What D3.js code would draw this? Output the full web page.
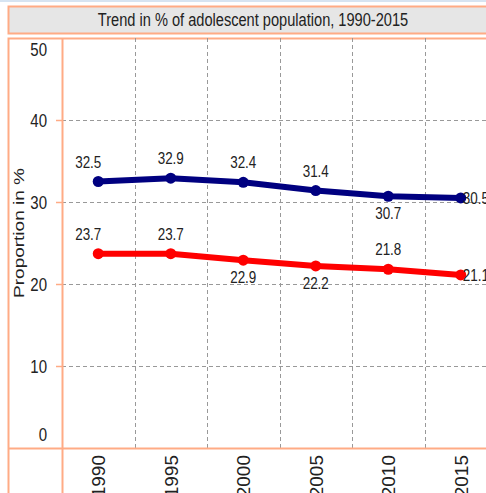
<!DOCTYPE html>
<html>
<head>
<meta charset="utf-8">
<script src="https://cdn.jsdelivr.net/npm/d3@7"></script>
<style>
  body { margin: 0; background: #fff; overflow: hidden; }
  text { font-family: "Liberation Sans", Arial, sans-serif; fill: #222; }
</style>
</head>
<body>
<div id="chart"></div>
<script>
const years = ["1990", "1995", "2000", "2005", "2010", "2015"];
const ageTen = [32.5, 32.9, 32.4, 31.4, 30.7, 30.5];
const ageFifteen = [23.7, 23.7, 22.9, 22.2, 21.8, 21.1];
const yTicks = [0, 10, 20, 30, 40, 50];
const title = "Trend in % of adolescent population, 1990-2015";
const yTitle = "Proportion in %";

// where each value label sits relative to its point
const bluePlace = ["up", "up", "up", "up", "down", "right"];
const redPlace = ["up", "up", "down", "down", "up", "right"];

const W = 486, H = 493;
const ORANGE = "#ffab85";
const SQ = 0.79; // horizontal squeeze of the text

const svg = d3.select("#chart").append("svg")
    .attr("width", W)
    .attr("height", H);

// light blue strip at the very top
svg.append("rect").attr("x", 0).attr("y", 0).attr("width", W).attr("height", 2)
    .attr("fill", "#d6e4f2");

// title box
svg.append("rect")
    .attr("x", 8.5).attr("y", 6.5).attr("width", 500).attr("height", 27)
    .attr("fill", "#e6e6e6")
    .attr("stroke", ORANGE).attr("stroke-width", 2);
svg.append("text")
    .attr("transform", `translate(253,26) scale(${SQ},1)`)
    .attr("text-anchor", "middle")
    .style("font-size", "18.5px")
    .text(title);

// chart frame
svg.append("rect")
    .attr("x", 8.5).attr("y", 38.5).attr("width", 520).attr("height", 500)
    .attr("fill", "none")
    .attr("stroke", ORANGE).attr("stroke-width", 2);

const plotL = 62, plotT = 38, plotB = 448, plotR = 497;

const x = d3.scaleBand().domain(years).range([plotL, plotR]);
const y = d3.scaleLinear().domain([0, 50]).range([plotB, plotT]);

// grid
const grid = svg.append("g")
    .attr("stroke", "#999")
    .attr("stroke-dasharray", "4,3")
    .attr("stroke-width", 1);
grid.selectAll("line.h")
    .data(yTicks.filter(d => d > 0 && d < 50))
    .enter().append("line")
    .attr("x1", plotL).attr("x2", plotR)
    .attr("y1", d => Math.round(y(d)) + 0.5).attr("y2", d => Math.round(y(d)) + 0.5);
grid.selectAll("line.v")
    .data(years.slice(1))
    .enter().append("line")
    .attr("x1", d => Math.round(x(d)) + 0.5).attr("x2", d => Math.round(x(d)) + 0.5)
    .attr("y1", plotT).attr("y2", plotB);

// y axis
const yAxis = svg.append("g")
    .attr("transform", `translate(${plotL},0)`)
    .call(d3.axisLeft(y).tickValues(yTicks).tickSize(6).tickPadding(9));
yAxis.select(".domain").remove();
yAxis.selectAll(".tick line")
    .attr("stroke", ORANGE).attr("stroke-width", 1.5)
    .attr("display", d => (d === 0 || d === 50) ? "none" : null);
yAxis.selectAll(".tick text")
    .attr("fill", "#222")
    .style("font-family", "Liberation Sans, Arial, sans-serif")
    .style("font-size", "19px")
    .attr("transform", `scale(${SQ},1)`)
    .attr("x", -9 / SQ - 6 / SQ)
    .attr("dy", d => d === 50 ? "0.9em" : d === 0 ? "-0.4em" : "0.32em");

// axis lines
svg.append("line")
    .attr("x1", plotL + 0.5).attr("x2", plotL + 0.5).attr("y1", plotT).attr("y2", H)
    .attr("stroke", ORANGE).attr("stroke-width", 2);
svg.append("line")
    .attr("x1", 8).attr("x2", W).attr("y1", plotB + 0.5).attr("y2", plotB + 0.5)
    .attr("stroke", ORANGE).attr("stroke-width", 2);

// x axis labels
const xAxis = svg.append("g")
    .attr("transform", `translate(0,${plotB})`)
    .call(d3.axisBottom(x).tickSize(0).tickPadding(0));
xAxis.select(".domain").remove();
xAxis.selectAll(".tick text")
    .style("font-family", "Liberation Sans, Arial, sans-serif")
    .style("font-size", "19px")
    .attr("fill", "#222")
    .attr("text-anchor", "end")
    .attr("y", 0).attr("dy", 0)
    .attr("transform", "translate(7,7) rotate(-90)");

// y title
svg.append("text")
    .attr("transform", `translate(24,233) scale(${SQ},1) rotate(-90)`)
    .attr("text-anchor", "middle")
    .style("font-size", "19px")
    .text(yTitle);

const cx = d => x(d) + x.bandwidth() / 2;

function drawSeries(values, color, place) {
    const pts = years.map((yr, i) => ({ yr, v: values[i], p: place[i] }));
    svg.append("path")
        .datum(pts)
        .attr("fill", "none")
        .attr("stroke", color)
        .attr("stroke-width", 6)
        .attr("stroke-linejoin", "round")
        .attr("d", d3.line().x(d => cx(d.yr)).y(d => y(d.v)));
    svg.append("g").selectAll("circle")
        .data(pts)
        .enter().append("circle")
        .attr("cx", d => cx(d.yr))
        .attr("cy", d => y(d.v))
        .attr("r", 5.5)
        .attr("fill", color);
    svg.append("g").selectAll("text")
        .data(pts)
        .enter().append("text")
        .attr("text-anchor", d => d.p === "right" ? "start" : "middle")
        .style("font-size", "17px")
        .attr("transform", (d, i) => {
            let tx = cx(d.yr), ty = y(d.v);
            if (d.p === "up") ty -= 14;
            if (d.p === "down") ty += 23;
            if (d.p === "right") { tx += 2; ty += 6; }
            if (i === 0) tx -= 10;
            return `translate(${tx},${ty}) scale(${SQ},1)`;
        })
        .text(d => d.v.toFixed(1));
}

drawSeries(ageTen, "#000080", bluePlace);
drawSeries(ageFifteen, "#ff0000", redPlace);
</script>
</body>
</html>
